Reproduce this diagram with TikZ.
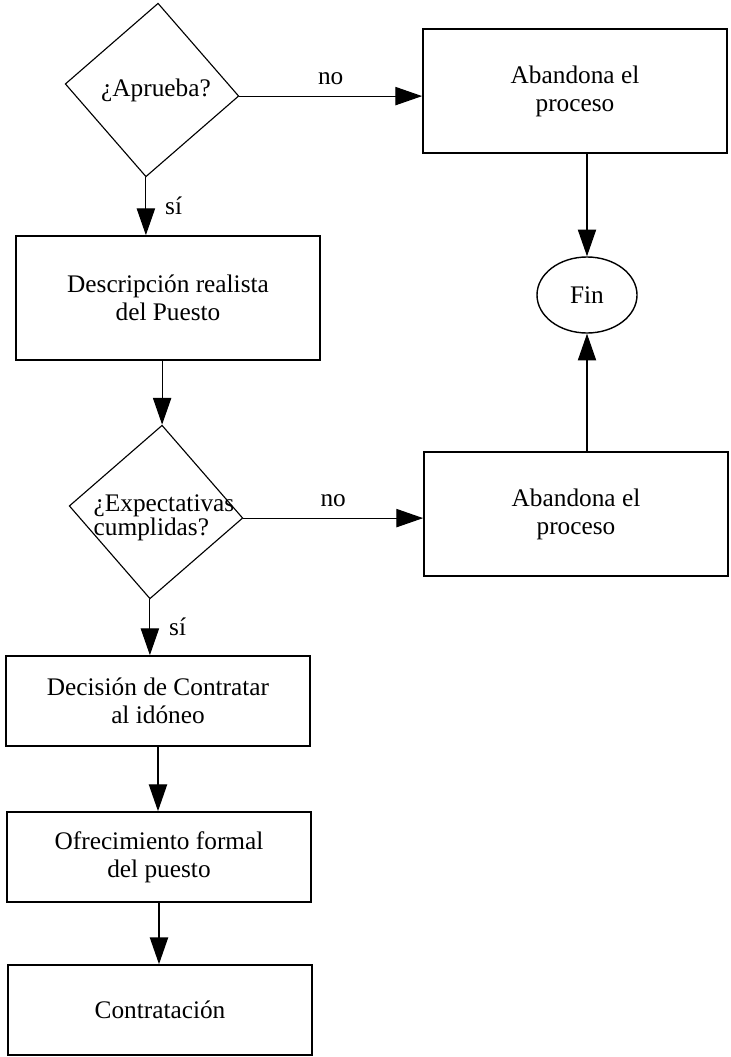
\documentclass[tikz,border=0pt]{standalone}
\usepackage{fontspec}
\setmainfont{Liberation Serif}
\usetikzlibrary{shapes.geometric, arrows.meta}

\begin{document}
\begin{tikzpicture}[x=0.025cm, y=-0.025cm, line width=0.8pt,
        >={Triangle[length=19pt, width=13pt]},
        font=\fontsize{18}{20}\selectfont,
        box/.style = {draw, rectangle, line width=1.2pt, minimum width=7.6cm, minimum height=3.1cm, align=center, inner sep=0pt},
        smallbox/.style = {box, minimum height=2.25cm},
        decision/.style = {draw, diamond, rotate=-4, minimum width=4.35cm, minimum height=4.35cm, inner sep=0pt},
        dtext/.style = {align=left, inner sep=0pt, font=\fontsize{18}{13.5}\selectfont},
        endnode/.style = {draw, ellipse, line width=1pt, minimum width=2.5cm, minimum height=1.9cm}]
        \useasboundingbox (0,0) rectangle (730,1057);
        \node[decision] (apr) at (152,90) {};
        \node[dtext] (aprq) at (156,90) {¿Aprueba?};
        \node[box] (aban1) at (575,91) {Abandona el\\proceso};
        \node[endnode] (fin) at (587,295) {Fin};
        \node[box] (desc) at (168,298) {Descripción realista\\del Puesto};
        \node[decision] (exp) at (156,512) {};
        \node[dtext] (expq) at (164,518) {¿Expectativas\\cumplidas?};
        \node[box] (aban2) at (576,514) {Abandona el\\proceso};
        \node[smallbox] (dec) at (158,701) {Decisión de Contratar\\al idóneo};
        \node[smallbox] (ofr) at (159,857) {Ofrecimiento formal\\del puesto};
        \node[smallbox] (con) at (160,1010) {Contratación};
        \draw[->] (apr.east) -- (apr.east -| aban1.west) node[midway, above=4pt] {no};
        \draw[->] (apr.south) -- (apr.south |- desc.north) node[midway, right=10pt] {sí};
        \draw[->] (exp.north |- desc.south) -- (exp.north);
        \draw[->] (exp.east) -- (exp.east -| aban2.west) node[midway, above=4pt] {no};
        \draw[->] (exp.south) -- (exp.south |- dec.north) node[midway, right=10pt] {sí};
        \draw[->] (dec.south) -- (dec.south |- ofr.north);
        \draw[->] (ofr.south) -- (ofr.south |- con.north);
        \draw[->] (fin.north |- aban1.south) -- (fin.north);
        \draw[->] (fin.south |- aban2.north) -- (fin.south);
\end{tikzpicture}
\end{document}
